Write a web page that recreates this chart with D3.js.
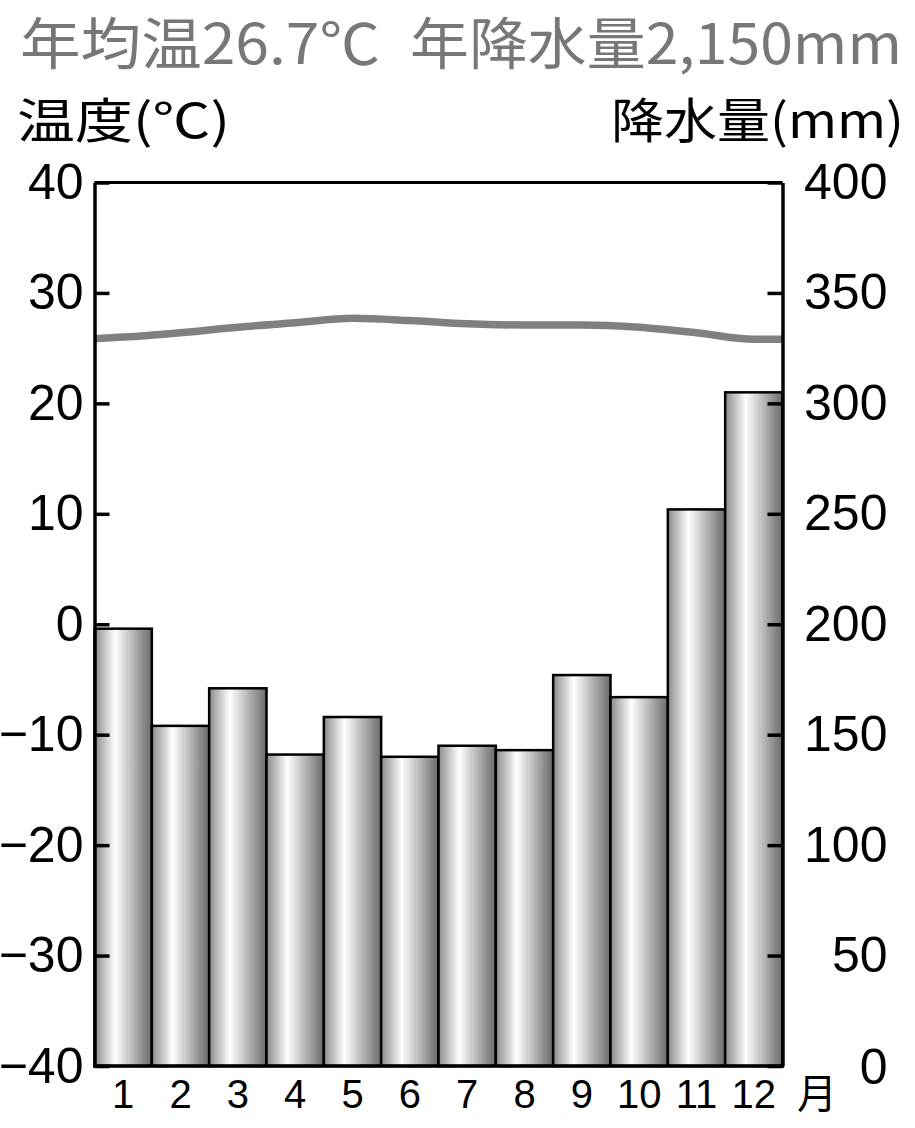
<!DOCTYPE html>
<html>
<head>
<meta charset="utf-8">
<script src="https://cdn.jsdelivr.net/npm/d3@7"></script>
<style>
html,body{margin:0;padding:0;background:#fff;}
svg{display:block;}
</style>
</head>
<body>
<svg id="chart" width="915" height="1128"></svg>
<script>
const months = ["1","2","3","4","5","6","7","8","9","10","11","12"];
const precipitation = [198, 154, 171, 141, 158, 140, 145, 143, 177, 167, 252, 305];
const temperature = [26.0, 26.4, 26.9, 27.3, 27.7, 27.5, 27.2, 27.1, 27.1, 26.9, 26.4, 25.8];
const tempTicks = [40, 30, 20, 10, 0, -10, -20, -30, -40];
const precipTicks = [400, 350, 300, 250, 200, 150, 100, 50, 0];
const titleParts = ["年均温26.7℃", "年降水量2,150mm"];
const leftAxisTitle = "温度(℃)";
const rightAxisTitle = "降水量(mm)";
const monthUnit = "月";

const svg = d3.select("#chart");
const L = 94.5, R = 782.5, T = 182.5, B = 1066;

const x = d3.scaleBand().domain(months).range([L, R]).padding(0);
const yT = d3.scaleLinear().domain([-40, 40]).range([B, T]);
const yP = d3.scaleLinear().domain([0, 400]).range([B, T]);

// gradient
const defs = svg.append("defs");
const grad = defs.append("linearGradient").attr("id", "barGrad")
  .attr("x1", "0%").attr("x2", "100%").attr("y1", "0%").attr("y2", "0%");
grad.append("stop").attr("offset", "0%").attr("stop-color", "#8a8a8a");
grad.append("stop").attr("offset", "36%").attr("stop-color", "#ffffff");
grad.append("stop").attr("offset", "100%").attr("stop-color", "#6a6a6a");

// title (two parts)
const titlePos = [[20, 360], [410, 492]];
titleParts.forEach((t, i) => {
  svg.append("text").attr("x", titlePos[i][0]).attr("y", 64)
    .attr("font-family", "'Noto Sans CJK JP', sans-serif").attr("font-size", 56)
    .attr("fill", "#777").attr("textLength", titlePos[i][1]).attr("lengthAdjust", "spacingAndGlyphs")
    .text(t);
});

svg.append("text").attr("x", 17).attr("y", 138)
  .attr("font-family", "'Noto Sans CJK JP', sans-serif").attr("font-size", 48)
  .attr("fill", "#000").attr("textLength", 213).attr("lengthAdjust", "spacingAndGlyphs")
  .text(leftAxisTitle);

svg.append("text").attr("x", 611).attr("y", 138)
  .attr("font-family", "'Noto Sans CJK JP', sans-serif").attr("font-size", 48)
  .attr("fill", "#000").attr("textLength", 293).attr("lengthAdjust", "spacingAndGlyphs")
  .text(rightAxisTitle);

// bars
svg.append("g").selectAll("rect").data(precipitation).join("rect")
  .attr("x", (d, i) => x(months[i]))
  .attr("y", d => yP(d))
  .attr("width", x.bandwidth())
  .attr("height", d => yP(0) - yP(d))
  .attr("fill", "url(#barGrad)")
  .attr("stroke", "#000").attr("stroke-width", 2.5);

// temperature line
const pts = temperature.map((t, i) => [x(months[i]) + x.bandwidth() / 2, yT(t)]);
const fullPts = [[L, yT(temperature[0]) + 1.5], ...pts, [R, yT(temperature[temperature.length - 1])]];
svg.append("path").datum(fullPts)
  .attr("d", d3.line().curve(d3.curveMonotoneX))
  .attr("fill", "none").attr("stroke", "#808080").attr("stroke-width", 7.5);

// frame top
svg.append("line").attr("x1", L).attr("x2", R).attr("y1", T).attr("y2", T)
  .attr("stroke", "#000").attr("stroke-width", 3);
// bottom
svg.append("line").attr("x1", L - 1.5).attr("x2", R + 1.5).attr("y1", B).attr("y2", B)
  .attr("stroke", "#000").attr("stroke-width", 3.5);

// left axis
const gL = svg.append("g").attr("transform", `translate(${L},0)`)
  .call(d3.axisLeft(yT).tickValues(tempTicks).tickSizeInner(-15).tickSizeOuter(0).tickPadding(11)
    .tickFormat(d => d < 0 ? "−" + Math.abs(d) : d));
gL.select(".domain").attr("stroke-width", 3.5).attr("stroke", "#000");
gL.selectAll(".tick line").attr("stroke-width", 3.5).attr("stroke", "#000");
gL.selectAll(".tick text").attr("font-family", "'Liberation Sans', Arial, sans-serif")
  .attr("font-size", 50).attr("fill", "#000").attr("x", -11);

// right axis
const gR = svg.append("g").attr("transform", `translate(${R},0)`)
  .call(d3.axisRight(yP).tickValues(precipTicks).tickSizeInner(-15).tickSizeOuter(0).tickPadding(15));
gR.select(".domain").attr("stroke-width", 3.5).attr("stroke", "#000");
gR.selectAll(".tick line").attr("stroke-width", 3.5).attr("stroke", "#000");
gR.selectAll(".tick text").attr("font-family", "'Liberation Sans', Arial, sans-serif")
  .attr("font-size", 50).attr("fill", "#000").attr("text-anchor", "end").attr("x", 105);
gR.selectAll(".tick").filter(d => d === 0).select("text").attr("dy", "0.35em");

// months
svg.append("g").selectAll("text").data(months).join("text")
  .attr("x", d => x(d) + x.bandwidth() / 2)
  .attr("y", 1108)
  .attr("text-anchor", "middle")
  .attr("font-family", "'Liberation Sans', Arial, sans-serif")
  .attr("font-size", 40).attr("fill", "#000")
  .text(d => d);

svg.append("text").attr("x", 797).attr("y", 1108)
  .attr("font-family", "'Noto Sans CJK JP', sans-serif").attr("font-size", 40)
  .attr("fill", "#000").text(monthUnit);
</script>
</body>
</html>
